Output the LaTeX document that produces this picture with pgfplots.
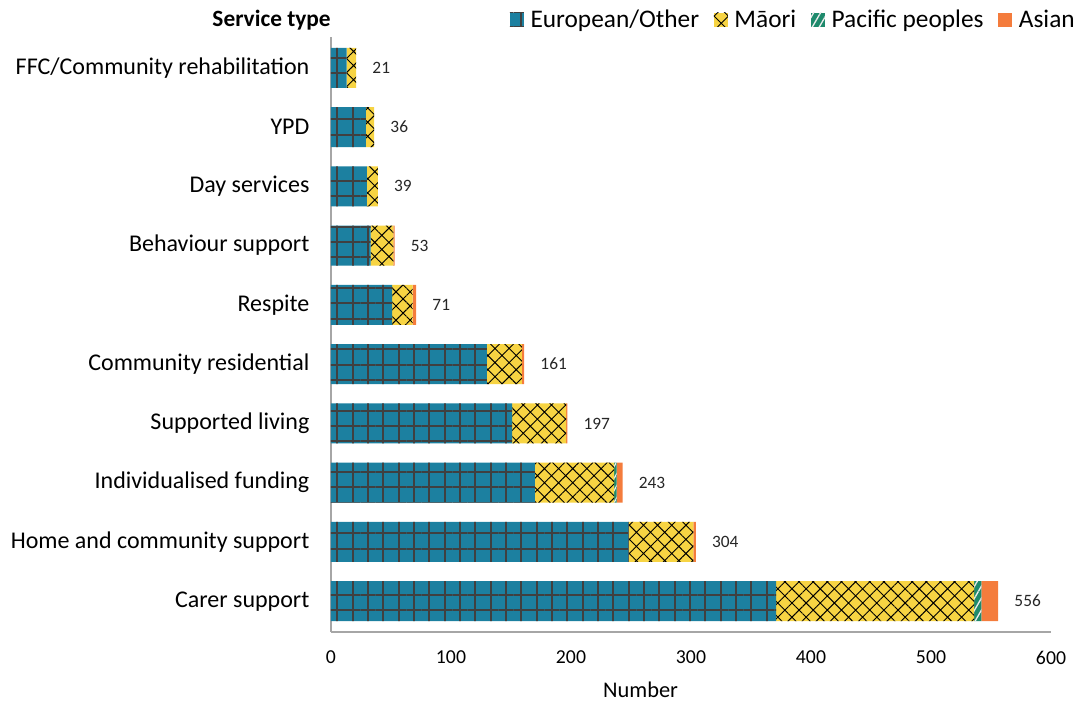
\documentclass[border=0pt]{standalone}
\usepackage{fontspec}
\setmainfont{Carlito}
\usepackage{pgfplots}
\pgfplotsset{compat=1.18}
\usetikzlibrary{patterns.meta}
\definecolor{euro}{HTML}{1C80A0}
\definecolor{maori}{HTML}{F7D443}
\definecolor{pacific}{HTML}{1E8A6C}
\definecolor{asian}{HTML}{F47C3C}
\definecolor{gridc}{HTML}{404040}
\begin{document}
\begin{tikzpicture}
\begin{axis}[
  at={(0,0)}, anchor=south west, scale only axis,
  width=540pt, height=446.25pt,
  xbar stacked, bar width=30pt,
  xmin=0, xmax=600, ymin=-0.52, ymax=9.52,
  ytick={0,...,9},
  yticklabels={Carer support,Home and community support,Individualised funding,Supported living,Community residential,Respite,Behaviour support,Day services,YPD,FFC/Community rehabilitation},
  xtick={0,100,...,600},
  axis x line*=bottom, axis y line*=left,
  axis line style={draw=black!35, line width=1pt, -},
  major tick length=0,
  /pgf/number format/assume math mode=true,
  yticklabel style={font=\fontsize{18}{20}\selectfont, inner sep=0pt, xshift=-16pt},
  xticklabel style={font=\fontsize{14.8}{16}\selectfont, inner sep=0pt, yshift=-14pt},
  xlabel={Number},
  xlabel style={font=\fontsize{16.8}{18}\selectfont, at={(axis description cs:0.43,0)}, anchor=north, inner sep=0pt, yshift=-37pt},
  legend columns=4,
  legend style={draw=none, fill=none, at={(axis description cs:1,1)}, anchor=east, xshift=19pt, yshift=13pt,
    font=\fontsize{19}{21}\selectfont, inner sep=0pt,
    /tikz/every odd column/.append style={column sep=4pt},
    /tikz/every even column/.append style={column sep=10pt},
    nodes={inner sep=1pt}},
  legend image code/.code={\path[#1] (0pt,-5.25pt) rectangle (10.5pt,5.25pt);},
  clip=false,
]
\addplot[fill=euro, draw=none, postaction={pattern={Hatch[angle=0,distance=11.5pt,line width=1.3pt]}, pattern color=gridc}]
 coordinates {(371,0) (248,1) (170,2) (151,3) (130,4) (51,5) (33,6) (30,7) (29,8) (13,9)};
\addlegendentry{European/Other}
\addplot[fill=maori, draw=none, postaction={pattern={Hatch[angle=45,distance=7.5pt,line width=0.7pt]}, pattern color=black}]
 coordinates {(165,0) (54,1) (66,2) (45,3) (29,4) (17,5) (19,6) (9,7) (7,8) (8,9)};
\addlegendentry{Māori}
\addplot[fill=pacific, draw=none, postaction={pattern={Lines[angle=60,distance=4.5pt,line width=1pt]}, pattern color=white!85!gray}]
 coordinates {(6,0) (0,1) (2,2) (0,3) (0,4) (0,5) (0,6) (0,7) (0,8) (0,9)};
\addlegendentry{Pacific peoples}
\addplot[fill=asian, draw=none]
 coordinates {(14,0) (2,1) (5,2) (1,3) (2,4) (3,5) (1,6) (0,7) (0,8) (0,9)};
\addlegendentry{Asian}
\addplot[forget plot, fill=none, draw=none,
  nodes near coords, point meta=explicit symbolic,
  nodes near coords style={anchor=west, xshift=12pt, inner sep=0pt, font=\fontsize{13}{14}\selectfont, text=black!85}]
 coordinates {(0.01,0) [556] (0.01,1) [304] (0.01,2) [243] (0.01,3) [197] (0.01,4) [161] (0.01,5) [71] (0.01,6) [53] (0.01,7) [39] (0.01,8) [36] (0.01,9) [21]};
\node[anchor=east, inner sep=0pt, font=\bfseries\fontsize{17.5}{19}\selectfont] at ([yshift=13pt]axis description cs:0,1) {Service type};
\end{axis}
\pgfresetboundingbox
\path (-248.25pt,-52.5pt) rectangle (568.5pt,474pt);
\end{tikzpicture}
\end{document}
